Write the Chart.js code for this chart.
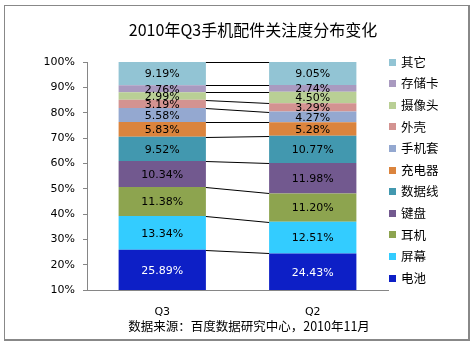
<!DOCTYPE html>
<html>
<head>
<meta charset="utf-8">
<script src="https://cdn.jsdelivr.net/npm/chart.js@4.4.0/dist/chart.umd.min.js"></script>
<style>
html,body{margin:0;padding:0;background:#fff;}
#wrap{position:relative;width:473px;height:344px;}
#frame{position:absolute;left:4px;top:5px;width:463px;height:333px;border:1px solid #888;border-width:1px 2px 2px 1px;box-sizing:content-box;}
canvas{position:absolute;left:0;top:0;}
</style>
</head>
<body>
<div id="wrap"><div id="frame"></div><canvas id="c" width="473" height="344"></canvas></div>
<script>
const titleText = '2010年Q3手机配件关注度分布变化';
const sourceText = '数据来源：百度数据研究中心，2010年11月';
const categories = ['Q3', 'Q2'];
const seriesNames = ['电池', '屏幕', '耳机', '键盘', '数据线', '充电器', '手机套', '外壳', '摄像头', '存储卡', '其它'];
const q3Values = [25.89, 13.34, 11.38, 10.34, 9.52, 5.83, 5.58, 3.19, 2.99, 2.76, 9.19];
const q2Values = [24.43, 12.51, 11.20, 11.98, 10.77, 5.28, 4.27, 3.29, 4.50, 2.74, 9.05];
const colors = ['#0D1FC6', '#33CCFF', '#8DA44F', '#72598F', '#4298AF', '#DB843D', '#94A8D0', '#D39391', '#B9CF95', '#A99AC0', '#92C4D4'];
const yTicks = [10, 20, 30, 40, 50, 60, 70, 80, 90, 100];

const FONT = '"DejaVu Sans", "Noto Sans CJK SC", sans-serif';
const CJK = '"Noto Sans CJK SC", "DejaVu Sans", sans-serif';

const datasets = seriesNames.map((n, i) => ({
  label: n,
  data: [q3Values[i], q2Values[i]],
  backgroundColor: colors[i],
  borderWidth: 0,
  categoryPercentage: 1,
  barPercentage: 0.58
}));

const extras = {
  id: 'extras',
  afterDatasetsDraw(chart) {
    const ctx = chart.ctx;
    const y = chart.scales.y;
    const area = chart.chartArea;
    const m0 = chart.getDatasetMeta(0).data;
    const rightQ3 = m0[0].x + m0[0].width / 2;
    const leftQ2 = m0[1].x - m0[1].width / 2;
    let c3 = 0, c2 = 0;
    ctx.save();
    ctx.beginPath();
    ctx.rect(area.left, area.top - 2, area.right - area.left, area.bottom - area.top + 2);
    ctx.clip();
    ctx.strokeStyle = '#000';
    ctx.lineWidth = 1;
    for (let i = 0; i < seriesNames.length; i++) {
      c3 += q3Values[i]; c2 += q2Values[i];
      const y1 = y.getPixelForValue(Math.min(c3, 100));
      const y2 = y.getPixelForValue(Math.min(c2, 100));
      ctx.beginPath();
      ctx.moveTo(rightQ3, Math.round(y1) + 0.5);
      ctx.lineTo(leftQ2, Math.round(y2) + 0.5);
      ctx.stroke();
    }
    ctx.restore();
    ctx.save();
    ctx.font = '11px ' + FONT;
    ctx.textAlign = 'center';
    ctx.textBaseline = 'middle';
    chart.data.datasets.forEach((ds, i) => {
      chart.getDatasetMeta(i).data.forEach((el, j) => {
        const top = el.y;
        const bot = Math.min(el.base, area.bottom);
        const cy = (top + bot) / 2;
        ctx.fillStyle = i === 0 ? '#fff' : '#000';
        ctx.fillText(ds.data[j].toFixed(2) + '%', el.x, cy + 1);
      });
    });
    ctx.restore();
    ctx.save();
    ctx.fillStyle = '#000';
    ctx.textAlign = 'center';
    ctx.textBaseline = 'middle';
    ctx.font = '16px ' + CJK;
    ctx.fillText(titleText, 253, 30);
    ctx.font = '12.5px ' + CJK;
    ctx.fillText(sourceText, 249, 326);
    ctx.textAlign = 'left';
    ctx.font = '12.5px ' + CJK;
    for (let k = 0; k < seriesNames.length; k++) {
      const idx = seriesNames.length - 1 - k;
      const cy = 62 + k * 21.6;
      ctx.fillStyle = colors[idx];
      ctx.fillRect(389, Math.round(cy - 3.5), 7, 7);
      ctx.fillStyle = '#000';
      ctx.fillText(seriesNames[idx], 401, cy);
    }
    ctx.restore();
  }
};

new Chart(document.getElementById('c'), {
  type: 'bar',
  data: { labels: categories, datasets },
  options: {
    responsive: false,
    animation: false,
    layout: { padding: { left: 0, right: 85, top: 62, bottom: 0 } },
    plugins: { legend: { display: false }, tooltip: { enabled: false }, title: { display: false } },
    scales: {
      x: {
        stacked: true,
        grid: { display: true, drawOnChartArea: false, drawTicks: false },
        border: { color: '#868686', width: 1 },
        ticks: { font: { size: 11, family: FONT }, color: '#000', padding: 16 },
        afterFit(s) { s.height = 54; }
      },
      y: {
        stacked: true,
        min: 10, max: 100,
        afterBuildTicks(s) { s.ticks = yTicks.map(v => ({ value: v })); },
        grid: { drawOnChartArea: false, tickLength: 4, color: '#868686' },
        border: { color: '#868686', width: 1 },
        ticks: { font: { size: 11, family: FONT }, color: '#000', padding: 8, callback: v => v + '%' },
        afterFit(s) { s.width = 87; }
      }
    }
  },
  plugins: [extras]
});
</script>
</body>
</html>
